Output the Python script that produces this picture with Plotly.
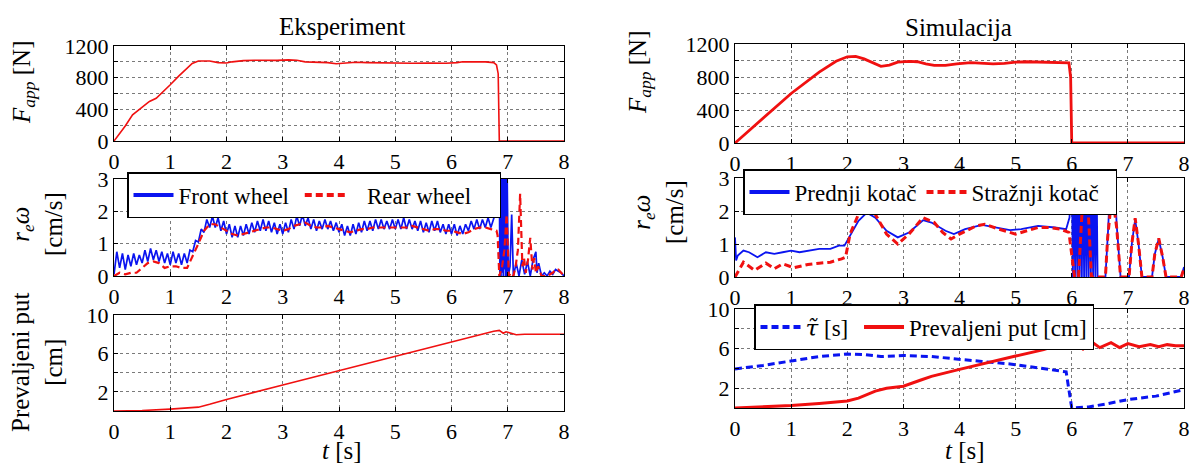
import plotly.graph_objects as go
from plotly.subplots import make_subplots

W, H = 1199, 471
PAGE_OFF = 8  # default body margin of the written page
FONT = "Liberation Serif, Times New Roman, Times, serif"
RED = "#f01010"
BLUE = "#0a14f0"
NB = "\u00a0"

# ---- Eksperiment: applied force [N]
f_exp_t = [0, 0.1, 0.2, 0.33, 0.5, 0.63, 0.75, 0.9, 1.0, 1.15,
           1.28, 1.39, 1.5, 1.7, 1.85, 2.0, 2.1, 2.3, 2.5, 2.7,
           2.9, 3.1, 3.25, 3.4, 3.6, 3.8, 3.95, 4.1, 4.3, 4.5,
           4.8, 5.0, 5.3, 5.6, 5.9, 6.1, 6.2, 6.4, 6.6, 6.75,
           6.8, 6.83, 6.85, 8.0]
f_exp = [0, 90, 190, 330, 430, 500, 540, 640, 710, 820,
         900, 980, 1010, 1010, 990, 985, 1000, 1015, 1020, 1015,
         1018, 1025, 1020, 1000, 995, 990, 975, 985, 995, 990,
         985, 985, 982, 985, 982, 990, 1000, 1000, 1000, 990,
         960, 850, 0, 0]

# ---- Eksperiment: wheel speed r_e*omega [cm/s], front wheel sampled every 0.05 s
front_exp = [
    0.05, 0.75, 0.25, 0.70, 0.20, 0.65, 0.30, 0.70, 0.35, 0.65,
    0.40, 0.80, 0.45, 0.85, 0.50, 0.80, 0.45, 0.75, 0.40, 0.70,
    0.35, 0.75, 0.40, 0.70, 0.35, 0.70, 0.40, 0.80, 0.75, 1.10,
    1.05, 1.45, 1.35, 1.75, 1.50, 1.85, 1.50, 1.80, 1.40, 1.70,
    1.30, 1.60, 1.20, 1.55, 1.20, 1.55, 1.25, 1.60, 1.30, 1.65,
    1.35, 1.70, 1.40, 1.75, 1.40, 1.70, 1.35, 1.65, 1.30, 1.60,
    1.30, 1.65, 1.35, 1.75, 1.45, 1.85, 1.55, 1.90, 1.55, 1.80,
    1.45, 1.75, 1.40, 1.70, 1.45, 1.75, 1.45, 1.70, 1.40, 1.65,
    1.35, 1.60, 1.25, 1.55, 1.25, 1.60, 1.30, 1.65, 1.35, 1.70,
    1.40, 1.70, 1.40, 1.75, 1.45, 1.75, 1.45, 1.70, 1.45, 1.75,
    1.45, 1.75, 1.45, 1.80, 1.45, 1.75, 1.45, 1.70, 1.40, 1.70,
    1.35, 1.65, 1.35, 1.70, 1.40, 1.70, 1.35, 1.60, 1.30, 1.60,
    1.30, 1.60, 1.25, 1.55, 1.30, 1.60, 1.40, 1.70, 1.45, 1.75,
    1.45, 1.75, 1.50, 1.80, 1.50, 1.75,
]
front_exp_tail_t = [6.78, 6.81, 6.83, 6.85, 6.86,
                    6.87, 6.88, 6.89, 6.90, 6.91,
                    6.92, 6.93, 6.94, 6.95, 6.96,
                    6.97, 6.98, 6.99, 7.01, 7.04,
                    7.07, 7.10, 7.15, 7.20, 7.25,
                    7.30, 7.35, 7.40, 7.45, 7.50,
                    7.52, 7.55, 7.60, 7.65, 7.70,
                    7.75, 7.80, 7.85, 7.90, 7.95,
                    8.00]
front_exp_tail = [1.9, 2.1, 2.6, 3.5, 0.0,
                  3.5, 0.0, 3.5, 0.1, 3.5,
                  0.0, 3.5, 0.2, 3.5, 0.0,
                  3.5, 0.0, 3.0, 0.0, 0.3,
                  1.9, 0.0, 0.4, 0.0, 0.5,
                  0.05, 0.45, 0.0, 0.5, 0.75,
                  0.1, 0.4, 0.0, 0.1, 0.0,
                  0.15, 0.05, 0.2, 0.15, 0.1,
                  0.0]

# rear wheel sampled every 0.1 s up to 6.8 s
rear_exp = [
    0.00, 0.10, 0.05, 0.10, 0.10, 0.25, 0.40, 0.45, 0.40, 0.25,
    0.30, 0.30, 0.25, 0.25, 0.60, 1.00, 1.40, 1.60, 1.60, 1.50,
    1.40, 1.30, 1.25, 1.30, 1.35, 1.40, 1.45, 1.50, 1.50, 1.45,
    1.40, 1.45, 1.55, 1.60, 1.65, 1.55, 1.50, 1.50, 1.55, 1.50,
    1.45, 1.40, 1.35, 1.40, 1.45, 1.45, 1.50, 1.50, 1.50, 1.50,
    1.50, 1.50, 1.50, 1.55, 1.50, 1.45, 1.40, 1.45, 1.45, 1.40,
    1.40, 1.35, 1.30, 1.35, 1.45, 1.50, 1.50, 1.45, 1.40,
]
rear_exp_tail_t = [6.82, 6.85, 6.90, 6.94, 6.98,
                   7.02, 7.06, 7.10, 7.14, 7.18,
                   7.22, 7.26, 7.29, 7.32, 7.36,
                   7.40, 7.44, 7.47, 7.50, 7.54,
                   7.60, 7.70, 7.80, 7.85, 7.90,
                   7.95, 8.00]
rear_exp_tail = [1.25, 0.0, 0.3, 0.8, 1.9,
                 0.0, 0.1, 0.0, 0.3, 0.8,
                 2.54, 0.3, 0.55, 0.1, 0.5,
                 1.18, 0.2, 0.55, 0.1, 0.3,
                 0.0, 0.0, 0.1, 0.2, 0.2,
                 0.1, 0.0]

# ---- Eksperiment: rolled distance [cm]
put_exp_t = [0, 0.5, 1.0, 1.3, 1.5, 1.7, 2.0, 3.0, 4.0, 5.0,
             6.0, 6.75, 6.85, 6.92, 6.97, 7.05, 7.15, 7.3, 8.0]
put_exp = [0.0, 0.05, 0.2, 0.3, 0.4, 0.7, 1.2, 2.7, 4.2, 5.7,
           7.25, 8.3, 8.4, 8.1, 8.25, 8.15, 7.95, 8.0, 8.0]

# ---- Simulacija: applied force [N]
f_sim_t = [0, 0.5, 1.0, 1.5, 1.8, 2.0, 2.15, 2.3, 2.45, 2.6,
           2.75, 2.9, 3.1, 3.25, 3.4, 3.55, 3.75, 3.95, 4.2, 4.4,
           4.6, 4.8, 5.0, 5.2, 5.45, 5.7, 5.95, 5.98, 6.0, 8.0]
f_sim = [0, 300, 600, 860, 990, 1045, 1050, 1020, 970, 930,
         945, 980, 990, 985, 960, 940, 940, 960, 975, 970,
         960, 965, 980, 985, 980, 975, 970, 800, 0, 0]

# ---- Simulacija: wheel speeds [cm/s]
sim_front_t = [0.00, 0.02, 0.05, 0.15, 0.25,
               0.40, 0.55, 0.70, 0.85, 1.00,
               1.15, 1.30, 1.50, 1.70, 1.85,
               1.95, 2.05, 2.20, 2.35, 2.50,
               2.70, 2.90, 3.10, 3.35, 3.50,
               3.75, 3.90, 4.10, 4.40, 4.60,
               4.90, 5.10, 5.40, 5.70, 5.90,
               5.96, 6.00, 6.02, 6.04, 6.06,
               6.08, 6.10, 6.12, 6.14, 6.16,
               6.18, 6.20, 6.22, 6.24, 6.26,
               6.28, 6.30, 6.32, 6.34, 6.36,
               6.38, 6.40, 6.42, 6.44, 6.46,
               6.60, 6.65, 6.70, 6.75, 6.80,
               6.87, 7.02, 7.07, 7.13, 7.19,
               7.25, 7.43, 7.48, 7.55, 7.62,
               7.68, 7.95, 8.00]
sim_front = [1.20, 0.50, 0.65, 0.80, 0.75,
             0.60, 0.75, 0.70, 0.75, 0.80,
             0.75, 0.80, 0.85, 0.85, 0.95,
             0.95, 1.25, 1.70, 1.95, 1.80,
             1.40, 1.20, 1.35, 1.72, 1.65,
             1.40, 1.30, 1.45, 1.58, 1.52,
             1.42, 1.45, 1.55, 1.50, 1.45,
             1.80, 3.50, 0.00, 3.50, 0.00,
             3.50, 0.00, 3.50, 0.00, 3.50,
             0.00, 3.50, 0.00, 3.50, 0.00,
             3.50, 0.00, 3.50, 0.00, 3.50,
             0.00, 3.50, 0.00, 3.50, 0.00,
             0.00, 1.50, 3.50, 3.50, 1.60,
             0.00, 0.00, 1.00, 1.75, 1.00,
             0.00, 0.00, 0.70, 1.15, 0.60,
             0.00, 0.00, 0.30]
sim_rear_t = [0.00, 0.15, 0.35, 0.55, 0.70,
              0.85, 1.05, 1.30, 1.50, 1.70,
              1.90, 1.97, 2.05, 2.20, 2.33,
              2.50, 2.70, 2.90, 3.10, 3.35,
              3.55, 3.70, 3.85, 4.00, 4.30,
              4.45, 4.70, 5.00, 5.20, 5.40,
              5.60, 5.80, 5.95, 6.02, 6.05,
              6.12, 6.20, 6.28, 6.35, 6.60,
              6.64, 6.72, 6.80, 6.87, 7.02,
              7.07, 7.13, 7.19, 7.25, 7.43,
              7.48, 7.55, 7.62, 7.68, 7.95,
              8.00]
sim_rear = [0.00, 0.45, 0.20, 0.42, 0.25,
            0.40, 0.28, 0.38, 0.42, 0.45,
            0.55, 0.60, 1.30, 1.90, 2.20,
            1.90, 1.30, 1.00, 1.30, 1.80,
            1.65, 1.35, 1.15, 1.30, 1.55,
            1.60, 1.45, 1.30, 1.40, 1.50,
            1.50, 1.45, 1.35, 0.50, 0.00,
            0.00, 2.50, 2.50, 0.00, 0.00,
            1.20, 2.55, 1.50, 0.00, 0.00,
            1.00, 1.78, 1.00, 0.00, 0.00,
            0.70, 1.17, 0.60, 0.00, 0.00,
            0.25]
ref_speed = 1.5

# ---- Simulacija: tau~ [s] and rolled distance [cm]
tau_t = [0, 0.5, 1.0, 1.5, 2.0, 2.3, 2.6, 3.0, 3.5, 4.0,
         4.4, 4.9, 5.2, 5.5, 5.9, 6.0, 6.3, 6.6, 7.0, 7.5, 8.0]
tau = [3.95, 4.3, 4.75, 5.2, 5.45, 5.4, 5.2, 5.3, 5.2, 4.9,
       4.7, 4.45, 4.2, 4.0, 3.65, 0.0, 0.1, 0.4, 0.85, 1.2, 1.85]
put_sim_t = [0, 0.5, 1.0, 1.5, 2.0, 2.2, 2.5, 2.7, 3.0, 3.3,
             3.5, 4.0, 4.5, 5.0, 5.5, 6.0, 6.2, 6.35, 6.5, 6.7,
             6.85, 7.0, 7.2, 7.4, 7.55, 7.7, 7.85, 8.0]
put_sim = [0.0, 0.1, 0.25, 0.45, 0.7, 1.0, 1.7, 2.0, 2.2, 2.8,
           3.2, 3.9, 4.6, 5.25, 5.9, 6.8, 5.95, 6.7, 6.1, 6.6,
           6.1, 6.5, 6.2, 6.4, 6.2, 6.4, 6.3, 6.3]

# sample grids for the uniformly sampled experiment signals
front_exp_t = [round(i * 0.05, 2) for i in range(len(front_exp))]
rear_exp_t = [round(i * 0.1, 2) for i in range(len(rear_exp))]


def px(x):
    return (x - PAGE_OFF) / W


def py(y):
    return 1 - (y - PAGE_OFF) / H


fig = make_subplots(rows=3, cols=2)


def line(x, y, color, width, dash="solid"):
    return go.Scatter(x=x, y=y, mode="lines", showlegend=False, hoverinfo="skip",
                      line=dict(color=color, width=width, dash=dash))


def key(name, color, dash, legend):
    # legend-only entry with a thicker sample line, like the original
    return go.Scatter(x=[None], y=[None], mode="lines", name=name, legend=legend,
                      showlegend=True, line=dict(color=color, width=4, dash=dash))


DASH = "7px,4px"

fig.add_trace(line(f_exp_t, f_exp, RED, 1.6), row=1, col=1)
fig.add_trace(line(f_sim_t, f_sim, RED, 2.8), row=1, col=2)

fig.add_trace(line(front_exp_t + front_exp_tail_t, front_exp + front_exp_tail, BLUE, 1.7), row=2, col=1)
fig.add_trace(line(rear_exp_t + rear_exp_tail_t, rear_exp + rear_exp_tail, RED, 2.2, DASH), row=2, col=1)
fig.add_trace(key("Front wheel" + NB, BLUE, "solid", "legend"), row=2, col=1)
fig.add_trace(key(NB * 3 + "Rear wheel" + NB * 4, RED, DASH, "legend"), row=2, col=1)

fig.add_hline(y=ref_speed, line=dict(color="black", width=3.5), row=2, col=2)
fig.add_trace(line(sim_front_t, sim_front, BLUE, 1.8), row=2, col=2)
fig.add_trace(line(sim_rear_t, sim_rear, RED, 3, DASH), row=2, col=2)
fig.add_trace(key("Prednji kotač", BLUE, "solid", "legend2"), row=2, col=2)
fig.add_trace(key("Stražnji kotač" + NB * 2, RED, DASH, "legend2"), row=2, col=2)

fig.add_trace(line(put_exp_t, put_exp, RED, 1.6), row=3, col=1)
fig.add_trace(line(tau_t, tau, BLUE, 3, DASH), row=3, col=2)
fig.add_trace(line(put_sim_t, put_sim, RED, 3), row=3, col=2)
fig.add_trace(key('<span style="font-family:DejaVu Serif;font-style:italic">τ̃</span>' + NB + "[s]" + NB,
                  BLUE, DASH, "legend3"), row=3, col=2)
fig.add_trace(key("Prevaljeni put [cm]", RED, "solid", "legend3"), row=3, col=2)

# axis boxes (pixel positions measured on the reference screenshot)
col_x = {1: (114, 564), 2: (735, 1184)}
row_y = {(1, 1): (46, 141), (1, 2): (44, 143),
         (2, 1): (179, 276), (2, 2): (178, 277),
         (3, 1): (315, 411), (3, 2): (309, 408)}

axis_style = dict(showline=True, linecolor="black", linewidth=1.2, mirror="ticks",
                  ticks="inside", ticklen=4, tickcolor="black", automargin=False,
                  showgrid=True, gridcolor="#7a7a7a", griddash="dot", gridwidth=1,
                  zeroline=False, tickfont=dict(family=FONT, size=22, color="black"))

for (r, c), (top, bottom) in row_y.items():
    x0, x1 = col_x[c]
    fig.update_xaxes(domain=[px(x0), px(x1)], range=[0, 8], tickvals=list(range(9)),
                     row=r, col=c, **axis_style)
    fig.update_yaxes(domain=[py(bottom), py(top)], row=r, col=c, **axis_style)

fig.update_yaxes(range=[0, 1200], tickvals=[0, 200, 400, 600, 800, 1000, 1200],
                 ticktext=["0", "", "400", "", "800", "", "1200"], row=1)
fig.update_yaxes(range=[0, 3], tickvals=[0, 1, 2, 3], row=2)
fig.update_yaxes(range=[0, 10], tickvals=[0, 2, 4, 6, 8, 10],
                 ticktext=["", "2", "", "6", "", "10"], row=3)

leg = dict(orientation="h", xanchor="left", yanchor="top", bgcolor="white",
           bordercolor="black", borderwidth=1.5, itemwidth=40,
           font=dict(family=FONT, size=23, color="black"))
fig.update_layout(
    legend=dict(x=px(127), y=py(172), **leg),
    legend2=dict(x=px(743), y=py(169), **leg),
    legend3=dict(x=px(754), y=py(304), **leg),
)


def label(text, x, y, size=25, angle=0):
    fig.add_annotation(text=text, x=px(x), y=py(y), xref="paper", yref="paper",
                       showarrow=False, textangle=angle, xanchor="center", yanchor="middle",
                       font=dict(family=FONT, size=size, color="black"))


label("Eksperiment", 342, 27)
label("Simulacija", 958, 28)
label("<i>F<sub>app</sub></i> [N]", 24, 82, angle=-90)
label("<i>r<sub>e</sub>ω</i><br>[cm/s]", 37, 224, angle=-90)
label("Prevaljeni put<br>[cm]", 37, 362, angle=-90)
label("<i>F<sub>app</sub></i> [N]", 640, 72, angle=-90)
label("<i>r<sub>e</sub>ω</i><br>[cm/s]", 658, 212, angle=-90)
label("<i>t</i> [s]", 342, 450)
label("<i>t</i> [s]", 965, 450)

fig.update_layout(width=W, height=H, margin=dict(l=0, r=0, t=0, b=0),
                  paper_bgcolor="white", plot_bgcolor="white",
                  font=dict(family=FONT, color="black"))

fig.write_html("out.html")
